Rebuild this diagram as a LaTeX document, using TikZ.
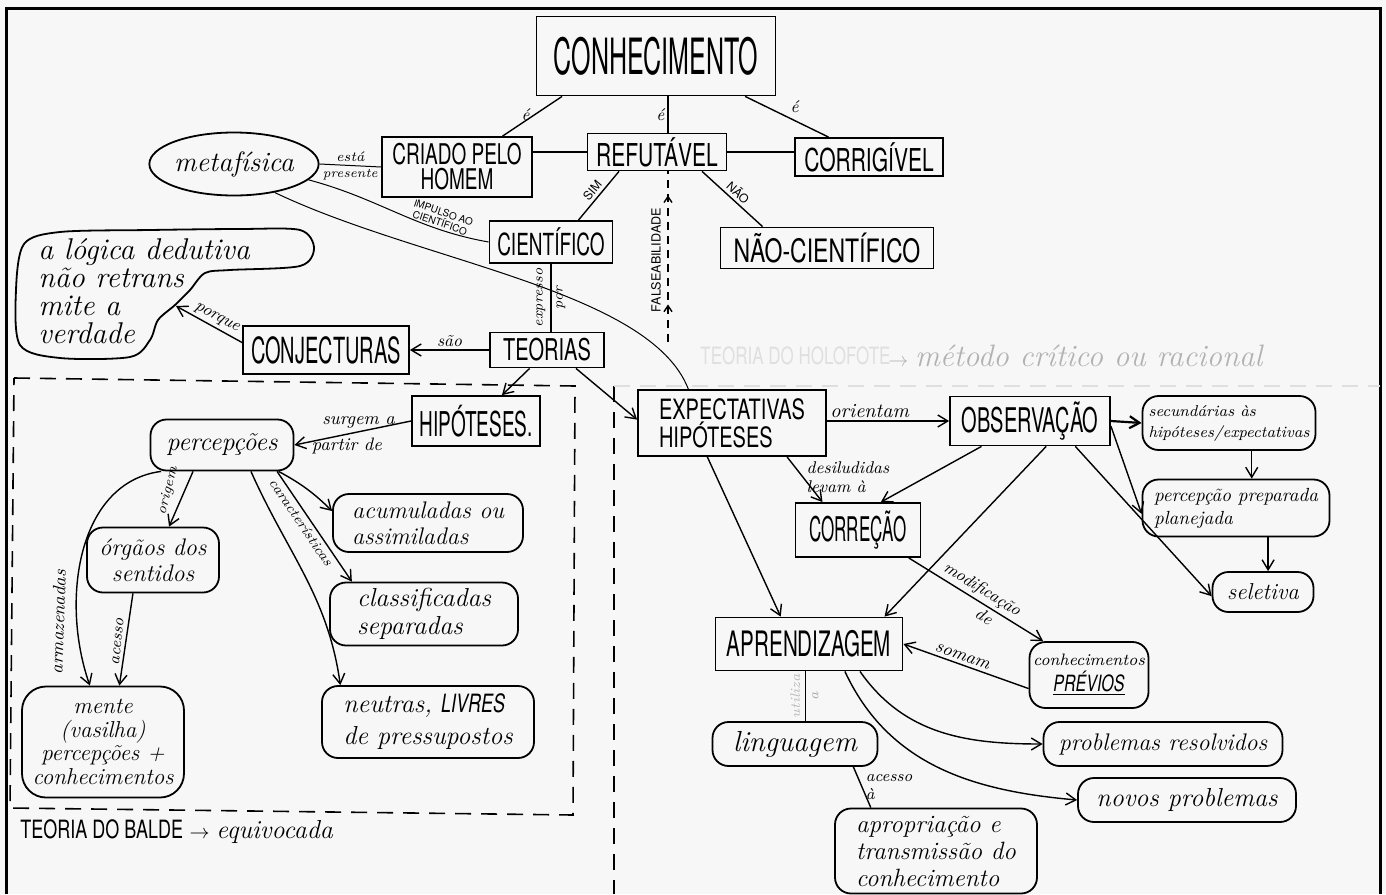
\documentclass[tikz,border=0pt]{standalone}
\usepackage{fontspec}
\setsansfont{TeX Gyre Heros}
\usepackage{graphicx}
\usetikzlibrary{arrows.meta,calc,decorations.markings,shapes.geometric}
\newcommand\UC[3][1.6]{\scalebox{1}[#1]{\fontsize{#2}{#2}\selectfont\sffamily #3}}
\newcommand\FS[2]{{\fontsize{#1}{#1}\selectfont #2}}
\tikzset{
 bx/.style={draw, line width=0.9pt, inner sep=0pt},
 rb/.style={draw, line width=0.9pt, rounded corners=8pt, inner sep=0pt, align=center},
 ln/.style={line width=0.7pt},
 thinln/.style={line width=0.5pt},
 ar/.style={line width=0.7pt, -{Straight Barb[length=5pt,width=6pt]}},
 lb/.style={font=\itshape\fontsize{8.5}{9}\selectfont, inner sep=1.5pt},
 sl/.style={font=\sffamily\fontsize{6}{6}\selectfont, inner sep=1.5pt},
 dsh/.style={line width=0.8pt, dash pattern=on 8pt off 5pt},
}
\begin{document}
\begin{tikzpicture}[x=0.5pt,y=-0.5pt]
\useasboundingbox (0,0) rectangle (1386,894);
\fill[gray!6] (0,0) rectangle (1386,894);
\draw[line width=1.5pt] (6,894) -- (6,8) -- (1380,8) -- (1380,894);

% dashed regions
\draw[dsh] (14,378) -- (575,386) -- (573,815) -- (10,808) -- cycle;
\draw[dsh] (614,386) -- (614,894);
\draw[dsh, gray!25] (614,386) -- (1380,386);

% ---------- nodes ----------
\node[bx, minimum width=119.5pt, minimum height=39.5pt] (con) at (656,56) {\UC[2]{12.5}{CONHECIMENTO}};
\node[draw, ellipse, line width=0.9pt, inner sep=0pt, minimum width=76pt, minimum height=31.5pt] (meta) at (234,164) {\FS{14}{\itshape metafísica}};
\node[bx, minimum width=75pt, minimum height=30pt, align=center, font=\fontsize{9.5}{12.5}\selectfont] (criado) at (457,167) {\UC[1.5]{9.5}{CRIADO PELO}\\\UC[1.5]{9.5}{HOMEM}};
\node[bx, minimum width=69.5pt, minimum height=18.5pt] (ref) at (657,152) {\UC[1.5]{10.5}{REFUTÁVEL}};
\node[bx, minimum width=74pt, minimum height=19pt] (corr) at (869,157) {\UC[1.5]{10.5}{CORRIGÍVEL}};
\node[bx, minimum width=61.5pt, minimum height=21pt] (cien) at (551,242) {\UC[1.6]{9.5}{CIENTÍFICO}};
\node[bx, minimum width=106.5pt, minimum height=20.5pt] (naoc) at (827,248) {\UC[1.4]{11.5}{NÃO-CIENTÍFICO}};
\node[bx, minimum width=83pt, minimum height=24pt] (conj) at (326,350) {\UC[1.8]{10}{CONJECTURAS}};
\node[bx, minimum width=57pt, minimum height=17.5pt] (teo) at (547,350) {\UC[1.5]{10}{TEORIAS}};
\node[bx, minimum width=64pt, minimum height=25pt] (hip) at (476,421) {\UC[1.8]{9.5}{HIPÓTESES.}};
\node[bx, minimum width=94pt, minimum height=33pt, align=left, font=\fontsize{10}{14}\selectfont] (exp) at (732,423) {\UC[1.4]{10}{EXPECTATIVAS}\\\UC[1.4]{10}{HIPÓTESES}};
\node[bx, minimum width=80pt, minimum height=24.5pt] (obs) at (1030,421) {\UC[1.7]{10}{OBSERVAÇÃO}};
\node[rb, minimum width=86.5pt, minimum height=27pt, align=left, font=\itshape\fontsize{7.9}{10.5}\selectfont] (sec) at (1229,423) {secundárias às\\hipóteses/expectativas};
\node[rb, minimum width=93.5pt, minimum height=28.5pt, align=left, font=\itshape\fontsize{9.5}{11.5}\selectfont] (ppl) at (1236,508) {percepção preparada\\planejada};
\node[rb, minimum width=50.5pt, minimum height=20pt, font=\itshape\fontsize{11.5}{12}\selectfont] (sel) at (1263,592) {seletiva};
\node[bx, minimum width=62.5pt, minimum height=27pt] (corc) at (858,530) {\UC[2]{8.5}{CORREÇÃO}};
\node[bx, minimum width=93.5pt, minimum height=26.5pt] (apr) at (809,644) {\UC[1.7]{10.3}{APRENDIZAGEM}};
\node[rb, minimum width=59.5pt, minimum height=33pt, font=\itshape\fontsize{8.3}{13}\selectfont] (prev) at (1089,675) {conhecimentos\\\underline{\UC[1.4]{8}{PRÉVIOS}}};
\node[rb, minimum width=82.5pt, minimum height=22pt, font=\itshape\fontsize{14.5}{15}\selectfont] (ling) at (795,744) {linguagem};
\node[rb, minimum width=119.5pt, minimum height=22pt, font=\itshape\fontsize{12}{13}\selectfont] (pres) at (1163,744) {problemas resolvidos};
\node[rb, minimum width=109pt, minimum height=22pt, font=\itshape\fontsize{13}{14}\selectfont] (novos) at (1187,800) {novos problemas};
\node[rb, minimum width=101pt, minimum height=42.5pt, align=left, font=\itshape\fontsize{12.5}{13.5}\selectfont] (aprop) at (936,851) {apropriação e\\transmissão do\\conhecimento};
\node[rb, minimum width=71.5pt, minimum height=25.5pt, font=\itshape\fontsize{13}{14}\selectfont] (perc) at (222,445) {percepções};
\node[rb, minimum width=66pt, minimum height=32.5pt, font=\itshape\fontsize{12}{13}\selectfont] (org) at (153,560) {órgãos dos\\sentidos};
\node[rb, minimum width=95pt, minimum height=29pt, align=left, font=\itshape\fontsize{12}{13}\selectfont] (acum) at (428,523) {acumuladas ou\\assimiladas};
\node[rb, minimum width=94pt, minimum height=31.5pt, align=left, font=\itshape\fontsize{13}{14}\selectfont] (clas) at (424,614) {classificadas\\separadas};
\node[rb, rounded corners=12pt, minimum width=81pt, minimum height=55.5pt, font=\itshape\fontsize{11.5}{11.8}\selectfont] (mente) at (103,742) {mente\\(vasilha)\\percepções +\\conhecimentos};
\node[rb, minimum width=106pt, minimum height=36pt, align=left, font=\itshape\fontsize{13}{16}\selectfont] (neut) at (428,722) {neutras, \UC[1.4]{9}{LIVRES}\\de pressupostos};

% blob
\draw[line width=0.9pt] plot[smooth cycle, tension=0.5] coordinates {(24,244) (60,232) (150,230) (240,229) (300,230) (314,248) (300,266) (230,270) (205,273) (190,290) (175,305) (158,320) (150,340) (130,357) (60,358) (20,345) (16,290)};
\node[anchor=north west, align=left, inner sep=0pt, font=\itshape\fontsize{15}{14}\selectfont] (blob) at (38,238) {a lógica dedutiva\\não retrans\\mite a\\verdade};
\coordinate (blobpt) at (176,306);

% titles
\node[anchor=west, inner sep=0pt] (balde) at (20,832) {\UC[1.4]{9}{TEORIA DO BALDE} $\rightarrow$ \FS{13}{\itshape equivocada}};
\node[anchor=west, inner sep=0pt, text=gray!25] (holo) at (700,356) {\UC[1.4]{8.5}{TEORIA DO HOLOFOTE}};
\node[anchor=west, inner sep=0pt, text=gray!60] (metodo) at (888,356) {$\rightarrow$ \FS{15.5}{\itshape método crítico ou racional}};

% ---------- connectors ----------
\coordinate (c1) at ($(con.south west)!0.11!(con.south east)$);
\coordinate (c1e) at ($(criado.north west)!0.8!(criado.north east)$);
\draw[ln] (c1) -- node[lb, pos=0.45, left=1pt]{é} (c1e);
\coordinate (c2) at ($(con.south west)!0.55!(con.south east)$);
\draw[ln] (c2) -- node[lb, midway, left=0pt]{é} (c2 |- ref.north);
\coordinate (c3) at ($(con.south west)!0.87!(con.south east)$);
\coordinate (c3e) at ($(corr.north west)!0.23!(corr.north east)$);
\draw[ln] (c3) -- node[lb, midway, above right=0pt]{é} (c3e);

\draw[ln] (ref.west -| criado.east) -- (ref.west);
\draw[ln] (ref.east) -- (ref.east -| corr.west);
\draw[thinln] (meta.east) -- node[lb, above, font=\itshape\fontsize{7}{7}\selectfont]{está} node[lb, below, font=\itshape\fontsize{6.5}{7}\selectfont]{presente} (criado.west);

\draw[thinln] (meta.-12) to[out=-15,in=170] node[pos=0.74, sloped, above, align=center, font=\sffamily\fontsize{5}{5.5}\selectfont, inner sep=1pt]{IMPULSO AO\\CIENTÍFICO} (cien.west);
\coordinate (x8) at ($(exp.north west)!0.27!(exp.north east)$);
\draw[thinln] (meta.-35) .. controls (420,262) and (650,290) .. (x8);

\coordinate (r9) at ($(ref.south west)!0.23!(ref.south east)$);
\coordinate (c9) at ($(cien.north west)!0.72!(cien.north east)$);
\draw[ln] (r9) -- node[sl, sloped, above]{SIM} (c9);
\coordinate (r10) at ($(ref.south west)!0.82!(ref.south east)$);
\coordinate (n10) at ($(naoc.north west)!0.2!(naoc.north east)$);
\draw[ln] (r10) -- node[sl, sloped, above]{NÃO} (n10);

\coordinate (fb) at (668,342);
\draw[ln, dash pattern=on 4pt off 3pt, postaction={decorate}, decoration={markings, mark=at position 0.22 with {\arrow{Straight Barb[length=3pt,width=4pt]}}, mark=at position 0.86 with {\arrow{Straight Barb[length=3pt,width=4pt]}}}] (fb) -- (fb |- ref.south);
\node[rotate=90, font=\sffamily\fontsize{6.3}{6.3}\selectfont, inner sep=0pt] (fal) at ($(fb)!0.48!(fb |- ref.south) + (-12,0)$) {FALSEABILIDADE};

\draw[ln] (cien.south) -- (cien.south |- teo.north);
\node[rotate=90, lb, font=\itshape\fontsize{7}{7}\selectfont] (lexp) at ($(cien.south)!0.5!(cien.south |- teo.north) + (-10,0)$) {expresso};
\node[rotate=90, lb, font=\itshape\fontsize{7}{7}\selectfont] (lpor) at ($(cien.south)!0.5!(cien.south |- teo.north) + (10,0)$) {por};

\draw[ar] (teo.west) -- node[lb, above]{são} (conj.east);
\coordinate (k14) at ($(conj.north west)!0.35!(conj.south west)$);
\draw[ar] (k14) -- node[lb, sloped, above, pos=0.45]{porque} (blobpt);
\coordinate (t15) at ($(teo.south west)!0.35!(teo.south east)$);
\coordinate (h15) at ($(hip.north west)!0.7!(hip.north east)$);
\draw[ar] (t15) -- (h15);
\coordinate (t16) at ($(teo.south west)!0.75!(teo.south east)$);
\coordinate (e16) at ($(exp.north west)!0.45!(exp.south west)$);
\draw[ar] (t16) -- (e16);

\draw[ar] (hip.west) -- node[lb, above, pos=0.45, font=\itshape\fontsize{9}{9}\selectfont]{surgem a} node[lb, below, pos=0.55, font=\itshape\fontsize{9}{9}\selectfont]{partir de} (perc.east);
\coordinate (p18) at ($(perc.south west)!0.3!(perc.south east)$);
\coordinate (o18) at ($(org.north west)!0.62!(org.north east)$);
\draw[ar] (p18) -- (o18);
\node[rotate=76, lb, font=\itshape\fontsize{7}{7}\selectfont] (lorig) at (168,491) {origem};
\coordinate (p19) at ($(perc.south west)!0.08!(perc.south east)$);
\coordinate (m19) at ($(mente.north west)!0.42!(mente.north east)$);
\draw[ar] (p19) .. controls (78,482) and (60,600) .. (m19);
\node[rotate=88, lb, font=\itshape\fontsize{9}{9}\selectfont] (larm) at (58,622) {armazenadas};
\coordinate (o20) at ($(org.south west)!0.35!(org.south east)$);
\coordinate (m20) at ($(mente.north west)!0.6!(mente.north east)$);
\draw[ar] (o20) -- (m20);
\node[rotate=84, lb, font=\itshape\fontsize{8}{8}\selectfont] (lac) at (118,642) {acesso};
\coordinate (a21) at ($(acum.north west)!0.3!(acum.south west)$);
\draw[ar] (perc.-25) to[bend left=8] (a21);
\coordinate (p22) at ($(perc.south west)!0.88!(perc.south east)$);
\coordinate (c22) at ($(clas.north west)!0.12!(clas.north east)$);
\draw[ar] (p22) -- node[lb, sloped, below, pos=0.42, font=\itshape\fontsize{7}{7}\selectfont]{características} (c22);
\coordinate (p23) at ($(perc.south west)!0.7!(perc.south east)$);
\coordinate (n23) at ($(neut.north west)!0.09!(neut.north east)$);
\draw[ar] (p23) to[out=-66,in=98] (n23);

\draw[ar] (obs.west -| exp.east) -- node[lb, above, pos=0.35, font=\itshape\fontsize{10}{10}\selectfont]{orientam} (obs.west);
\coordinate (e25) at ($(exp.south west)!0.79!(exp.south east)$);
\coordinate (k25) at ($(corc.north west)!0.22!(corc.north east)$);
\draw[ar] (e25) -- node[lb, right, pos=0.45, align=left, font=\itshape\fontsize{8.5}{9.5}\selectfont]{desiludidas\\levam à} (k25);
\coordinate (o26) at ($(obs.south west)!0.2!(obs.south east)$);
\coordinate (k26) at ($(corc.north west)!0.68!(corc.north east)$);
\draw[ar] (o26) -- (k26);
\coordinate (o27) at ($(obs.south west)!0.6!(obs.south east)$);
\coordinate (a27) at ($(apr.north west)!0.9!(apr.north east)$);
\draw[ar] (o27) -- (a27);
\coordinate (e28) at ($(exp.south west)!0.37!(exp.south east)$);
\coordinate (a28) at ($(apr.north west)!0.35!(apr.north east)$);
\draw[ar] (e28) -- (a28);
\draw[ar, line width=1.1pt] (obs.east) -- (sec.west);
\coordinate (o30) at ($(obs.north east)!0.6!(obs.south east)$);
\coordinate (p30) at ($(ppl.north west)!0.6!(ppl.south west)$);
\draw[ar] (o30) -- (p30);
\coordinate (o31) at ($(obs.south west)!0.78!(obs.south east)$);
\coordinate (s31) at ($(sel.north west)!0.6!(sel.south west)$);
\draw[ar] (o31) -- (s31);
\coordinate (s32) at ($(sec.south west)!0.63!(sec.south east)$);
\draw[ar] (s32) -- (s32 |- ppl.north);
\coordinate (p33) at ($(ppl.south west)!0.67!(ppl.south east)$);
\draw[ar] (p33) -- (p33 |- sel.north);
\coordinate (k34) at ($(corc.south west)!0.9!(corc.south east)$);
\coordinate (v34) at ($(prev.north west)!0.12!(prev.north east)$);
\draw[ar] (k34) -- node[lb, sloped, above, pos=0.5]{modificação} node[lb, sloped, below, pos=0.6]{de} (v34);
\coordinate (v35) at ($(prev.north west)!0.7!(prev.south west)$);
\draw[ar] (v35) -- node[lb, sloped, above, pos=0.55, font=\itshape\fontsize{9}{9}\selectfont]{somam} (apr.east);
\coordinate (a36) at ($(apr.south west)!0.48!(apr.south east)$);
\draw[ln] (a36) -- (a36 |- ling.north);
\node[rotate=90, lb, text=gray!55, font=\itshape\fontsize{7}{7}\selectfont] (lut) at ($(a36)!0.5!(a36 |- ling.north) + (-10,0)$) {utiliza};
\node[rotate=90, lb, text=gray!70, font=\itshape\fontsize{7}{7}\selectfont] (lua) at ($(a36)!0.5!(a36 |- ling.north) + (10,0)$) {a};
\coordinate (a37) at ($(apr.south west)!0.77!(apr.south east)$);
\draw[ar] (a37) to[out=-55,in=180] (pres.west);
\coordinate (a38) at ($(apr.south west)!0.69!(apr.south east)$);
\draw[ar] (a38) to[out=-65,in=175] (novos.west);
\coordinate (l39) at ($(ling.south west)!0.85!(ling.south east)$);
\coordinate (q39) at ($(aprop.north west)!0.18!(aprop.north east)$);
\draw[ln] (l39) -- node[lb, right, pos=0.5, align=left, font=\itshape\fontsize{8}{9}\selectfont]{acesso\\à} (q39);
\end{tikzpicture}
\end{document}
